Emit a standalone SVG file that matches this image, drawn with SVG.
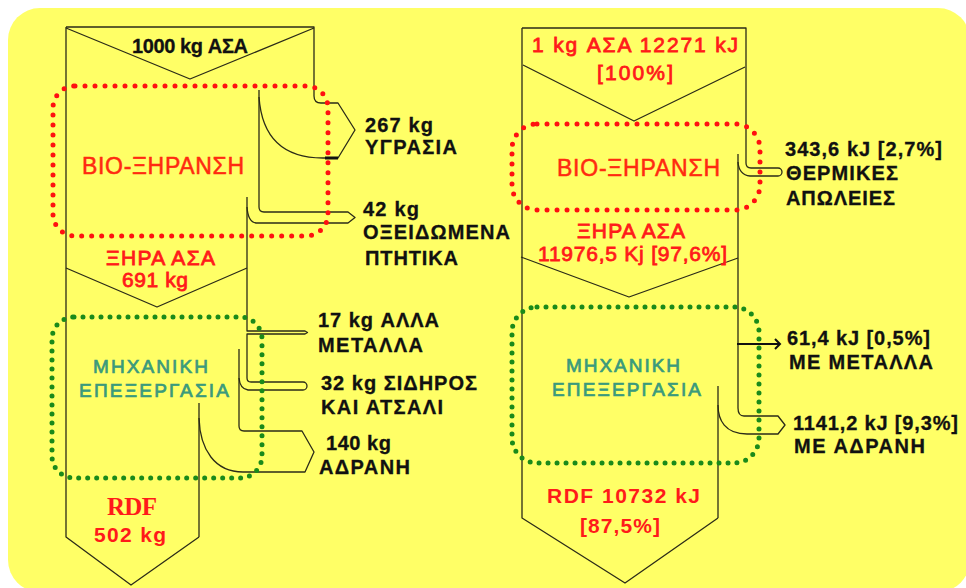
<svg xmlns="http://www.w3.org/2000/svg" width="966" height="588" viewBox="0 0 966 588">
<style>
.ln{fill:none;stroke:#2b2b18;stroke-width:1.3;stroke-linejoin:round}
.t{font-family:"Liberation Sans",Arial,sans-serif}
.blk{font-weight:bold;font-size:20px;fill:#111;stroke:#111;stroke-width:0.3}
.red{font-size:21px;fill:#ff1a1a;stroke:#ff1a1a;stroke-width:0.8}
.proc{font-size:23px;fill:#ff2a10;stroke:#ff2a10;stroke-width:0.5}
.teal{font-size:19px;fill:#3a9a7c;stroke:#3a9a7c;stroke-width:0.7}
.dotr{fill:none;stroke:#ff1010;stroke-width:5;stroke-dasharray:0 10;stroke-linecap:round}
.dotg{fill:none;stroke:#1a8a1a;stroke-width:5;stroke-dasharray:0 9;stroke-linecap:round}
</style>
<rect x="8" y="8" width="962" height="584" rx="32" fill="#ffff66"/>

<g id="connectors">
  <!-- left mass balance -->
  <path class="ln" d="M66,27 V537 L131,585 L199,537"/>
  <path class="ln" d="M66,27 H314 V96 Q314,103 321,103 H338 L355,130 L338,158 H323"/>
  <path class="ln" d="M66,28 L190,79 L314,28"/>
  <path class="ln" d="M259,97 C262,140 285,158 323,158"/>
  <line x1="325" y1="158" x2="338" y2="158" stroke="#111" stroke-width="3"/>
  <path class="ln" d="M259,90 V207 Q259,212 264,212 H348 L355,217.5 L348,223 H256 Q248,222 247,207"/>
  <path class="ln" d="M66,268 L157,307 L247,268"/>
  <path class="ln" d="M247,197 V331 H305 L307.5,332.5 L305,334 H247 V378 Q247,382 251,382 H303 A4,4 0 0 1 303,390 H248 Q240,389 239,378"/>
  <path class="ln" d="M239,349 V426 Q239,431 244,431 H302 L314,452 L305,472 H243 C215,472 200,450 199,418"/>
  <path class="ln" d="M199,403 V537"/>
  <!-- right energy balance -->
  <path class="ln" d="M522,28 V518 L625,583 L718,518"/>
  <path class="ln" d="M522,28 H746 V163 Q746,168 751,168 H778 A4,4 0 0 1 778,176 H750 Q739,175 738,162"/>
  <path class="ln" d="M523,65 L634,121 L745,67"/>
  <path class="ln" d="M738,154 V408 Q738,416 744,416 H778 L785,425 L778,434 H747 C725,434 718,420 718,405"/>
  <path class="ln" d="M718,386 V518"/>
  <path class="ln" d="M521,257 L629,297 L738,258"/>
  <path fill="none" stroke="#111" stroke-width="2" d="M737,344 H780 M775,339 L780,344 L775,349"/>
</g>

<g id="bio-drying-left">
  <rect class="dotr" x="53" y="86" width="275" height="150" rx="22"/>
  <text class="t proc" x="82" y="174" textLength="162" lengthAdjust="spacing">ΒΙΟ-ΞΗΡΑΝΣΗ</text>
</g>
<g id="mech-left">
  <rect class="dotg" x="52" y="317" width="210" height="161" rx="22"/>
  <text class="t teal" x="93" y="373" textLength="115" lengthAdjust="spacing">ΜΗΧΑΝΙΚΗ</text>
  <text class="t teal" x="79" y="397" textLength="150" lengthAdjust="spacing">ΕΠΕΞΕΡΓΑΣΙΑ</text>
</g>
<g id="bio-drying-right">
  <rect class="dotr" x="512" y="124" width="248" height="86" rx="25"/>
  <text class="t proc" x="557" y="176" textLength="163" lengthAdjust="spacing">ΒΙΟ-ΞΗΡΑΝΣΗ</text>
</g>
<g id="mech-right">
  <rect class="dotg" x="512" y="307" width="247" height="156" rx="25"/>
  <text class="t teal" x="566" y="372" textLength="114" lengthAdjust="spacing">ΜΗΧΑΝΙΚΗ</text>
  <text class="t teal" x="552" y="396" textLength="149" lengthAdjust="spacing">ΕΠΕΞΕΡΓΑΣΙΑ</text>
</g>

<g id="input-left">
  <text class="t blk" x="132" y="53" font-size="18" textLength="116" lengthAdjust="spacing">1000 kg ΑΣΑ</text>
</g>
<g id="dry-left">
  <text class="t red" x="106" y="265" font-size="20" textLength="109" lengthAdjust="spacing">ΞΗΡΑ ΑΣΑ</text>
  <text class="t red" x="122" y="287" font-size="20" stroke-width="0.4" textLength="66" lengthAdjust="spacing">691 kg</text>
</g>
<g id="moisture">
  <text class="t blk" x="365" y="132" textLength="68" lengthAdjust="spacing">267 kg</text>
  <text class="t blk" x="365" y="154" textLength="92" lengthAdjust="spacing">ΥΓΡΑΣΙΑ</text>
</g>
<g id="volatiles">
  <text class="t blk" x="363" y="216" textLength="56" lengthAdjust="spacing">42 kg</text>
  <text class="t blk" x="363" y="239" textLength="147" lengthAdjust="spacing">ΟΞΕΙΔΩΜΕΝΑ</text>
  <text class="t blk" x="365" y="265" textLength="93" lengthAdjust="spacing">ΠΤΗΤΙΚΑ</text>
</g>
<g id="other-metals">
  <text class="t blk" x="318" y="327" textLength="121" lengthAdjust="spacing">17 kg ΑΛΛΑ</text>
  <text class="t blk" x="318" y="352" textLength="105" lengthAdjust="spacing">ΜΕΤΑΛΛΑ</text>
</g>
<g id="iron-steel">
  <text class="t blk" x="321" y="390" textLength="156" lengthAdjust="spacing">32 kg ΣΙΔΗΡΟΣ</text>
  <text class="t blk" x="321" y="414" textLength="122" lengthAdjust="spacing">ΚΑΙ ΑΤΣΑΛΙ</text>
</g>
<g id="inerts">
  <text class="t blk" x="326" y="450" textLength="65" lengthAdjust="spacing">140 kg</text>
  <text class="t blk" x="319" y="474" textLength="91" lengthAdjust="spacing">ΑΔΡΑΝΗ</text>
</g>
<g id="rdf-left">
  <text x="107" y="515" font-family="'Liberation Serif','Times New Roman',serif" font-weight="bold" font-size="25" fill="#ff1a1a" textLength="50" lengthAdjust="spacing">RDF</text>
  <text class="t" x="94" y="542" font-weight="bold" font-size="21" fill="#ff1a1a" textLength="72" lengthAdjust="spacing">502 kg</text>
</g>

<g id="input-right">
  <text class="t red" x="532" y="52" textLength="206" lengthAdjust="spacing">1 kg ΑΣΑ 12271 kJ</text>
  <text class="t red" x="597" y="80" textLength="76" lengthAdjust="spacing">[100%]</text>
</g>
<g id="dry-right">
  <text class="t red" x="577" y="238" font-size="20" textLength="108" lengthAdjust="spacing">ΞΗΡΑ ΑΣΑ</text>
  <text class="t red" x="538" y="261" font-size="20" textLength="189" lengthAdjust="spacing">11976,5 Kj [97,6%]</text>
</g>
<g id="thermal-losses">
  <text class="t blk" x="785" y="156" textLength="157" lengthAdjust="spacing">343,6 kJ [2,7%]</text>
  <text class="t blk" x="786" y="180" textLength="112" lengthAdjust="spacing">ΘΕΡΜΙΚΕΣ</text>
  <text class="t blk" x="786" y="205" textLength="109" lengthAdjust="spacing">ΑΠΩΛΕΙΕΣ</text>
</g>
<g id="with-metals">
  <text class="t blk" x="787" y="345" textLength="143" lengthAdjust="spacing">61,4 kJ [0,5%]</text>
  <text class="t blk" x="789" y="369" textLength="144" lengthAdjust="spacing">ΜΕ ΜΕΤΑΛΛΑ</text>
</g>
<g id="with-inerts">
  <text class="t blk" x="793" y="430" textLength="165" lengthAdjust="spacing">1141,2 kJ [9,3%]</text>
  <text class="t blk" x="794" y="453" textLength="131" lengthAdjust="spacing">ΜΕ ΑΔΡΑΝΗ</text>
</g>
<g id="rdf-right">
  <text class="t" x="547" y="503" font-weight="bold" font-size="21" fill="#ff1a1a" textLength="153" lengthAdjust="spacing">RDF 10732 kJ</text>
  <text class="t" x="580" y="533" font-weight="bold" font-size="21" fill="#ff1a1a" textLength="80" lengthAdjust="spacing">[87,5%]</text>
</g>
</svg>
